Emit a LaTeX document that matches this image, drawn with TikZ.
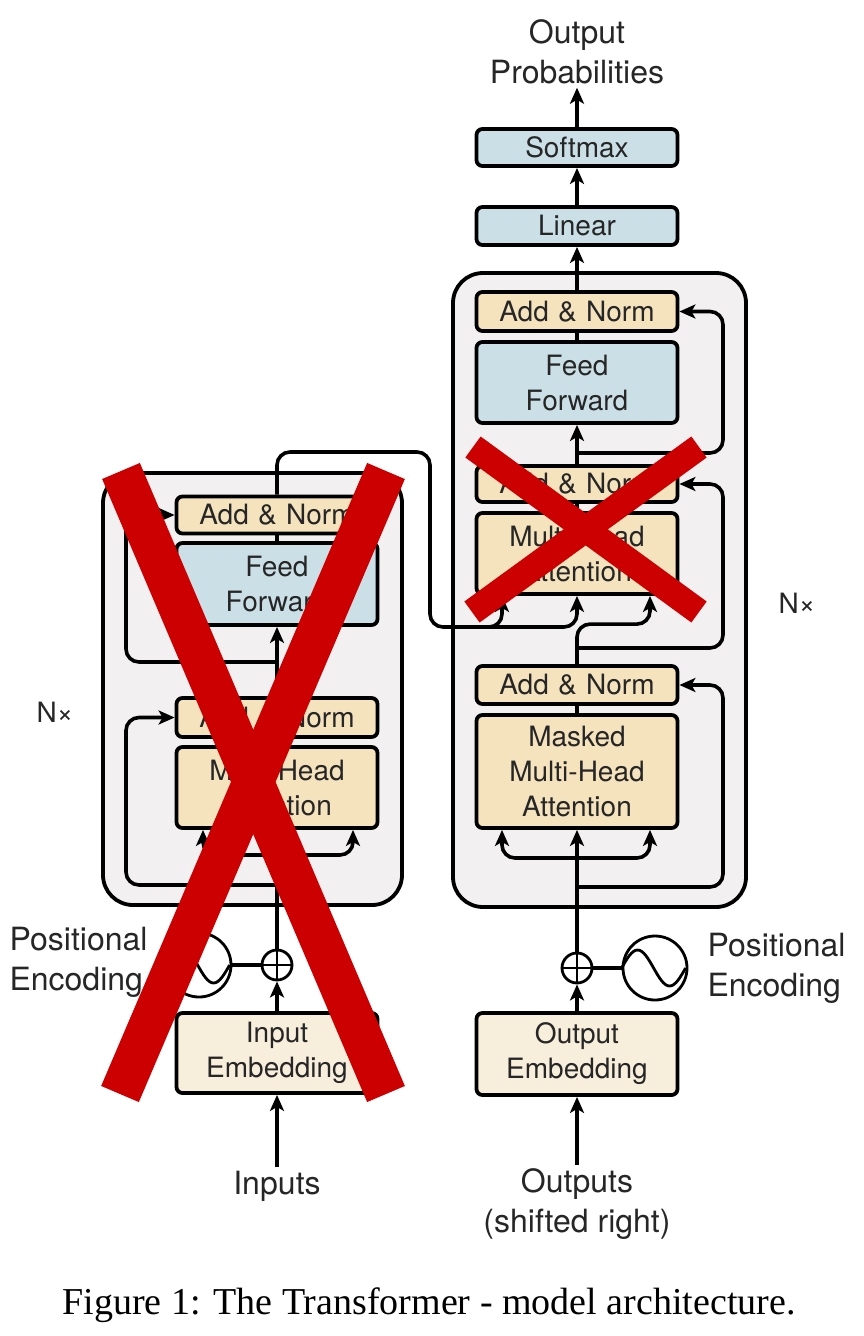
\documentclass[tikz,border=0pt]{standalone}
\usepackage{fontspec}
\setmainfont{TeX Gyre Heros}
\newfontfamily\capfont{Liberation Serif}
\usetikzlibrary{arrows.meta}

\definecolor{tanbg}{HTML}{F5E3BE}
\definecolor{bluebg}{HTML}{CBE0E6}
\definecolor{embbg}{HTML}{F8EEDC}
\definecolor{stackbg}{HTML}{F2F0F0}
\definecolor{xred}{HTML}{CC0000}

\tikzset{
  block/.style={draw, line width=3.8pt, rounded corners=6pt, minimum width=201pt,
    text width=190pt, align=center, inner sep=0pt, text=black!85,
    font=\fontsize{28}{35}\selectfont},
  addnorm/.style={block, fill=tanbg, minimum height=37pt},
  attn/.style={block, fill=tanbg},
  ffwd/.style={block, fill=bluebg},
  embed/.style={block, fill=embbg, minimum height=81pt},
  stack/.style={draw, line width=3.8pt, rounded corners=30pt, fill=stackbg},
  wire/.style={line width=3.6pt, rounded corners=13pt},
  arr/.style={wire, -{Stealth[length=16pt,width=14pt,inset=4pt]}},
  plus/.style={circle, draw, line width=2.8pt, minimum size=30pt, inner sep=0pt},
  wave/.style={circle, draw, line width=2.8pt, minimum size=64pt, inner sep=0pt},
  lbl/.style={text=black!85, font=\fontsize{32}{40}\selectfont, align=center},
  cross/.style={draw=xred, line width=#1},
}

\begin{document}
\begin{tikzpicture}[x=1pt, y=-1pt]
\useasboundingbox (0,0) rectangle (864,1336);

% stacks
\node[stack, minimum width=299pt, minimum height=432pt] (encbox) at (252.5,689) {};
\node[stack, minimum width=293pt, minimum height=634pt] (decbox) at (599.5,590) {};

% encoder
\node[addnorm] (ean2) at (277,515) {Add \& Norm};
\node[ffwd, minimum height=82pt] (eff) at (277,584) {Feed\\Forward};
\node[addnorm, minimum height=39pt] (ean1) at (277,717.5) {Add \& Norm};
\node[attn, minimum height=81pt] (emha) at (277,787.5) {Multi-Head\\Attention};
\node[plus] (eplus) at (277,965) {};
\node[wave] (esin) at (199,965) {};
\node[embed, minimum height=80pt] (eemb) at (277,1053) {Input\\Embedding};
\node[lbl] (inputs) at (277,1186) {Inputs};
\node[lbl, anchor=west, align=left] (epos) at (6,962) {Positional\\Encoding};
\node[lbl, font=\fontsize{28}{34}\selectfont] (encn) at (55,712) {N×};

% decoder
\node[lbl] (outprob) at (577,52) {Output\\Probabilities};
\node[ffwd, minimum height=37pt] (softmax) at (577,147.5) {Softmax};
\node[ffwd, minimum height=38pt] (linear) at (577,226) {Linear};
\node[addnorm, minimum height=39pt] (dan3) at (577,311.5) {Add \& Norm};
\node[ffwd, minimum height=81pt] (dff) at (577,382.5) {Feed\\Forward};
\node[addnorm, minimum height=36pt] (dan2) at (577,484) {Add \& Norm};
\node[attn, minimum height=81pt] (dmha) at (577,553.5) {Multi-Head\\Attention};
\node[addnorm, minimum height=38pt] (dan1) at (577,685) {Add \& Norm};
\node[attn, minimum height=113pt] (dmmha) at (577,771.5) {Masked\\Multi-Head\\Attention};
\node[plus] (dplus) at (577,968) {};
\node[wave] (dsin) at (655,968) {};
\node[embed, minimum height=82pt] (demb) at (577,1054) {Output\\Embedding};
\node[lbl] (outputs) at (577,1204) {Outputs\\(shifted right)};
\node[lbl, anchor=west, align=left] (dpos) at (704,968) {Positional\\Encoding};
\node[lbl, font=\fontsize{28}{34}\selectfont] (decn) at (797,603) {N×};

\node[text=black, font=\capfont\fontsize{38}{44}\selectfont] (caption) at (429,1305)
  {Figure 1: The Transformer - model architecture.};

% helper points
\coordinate (esplit) at (277,855);
\coordinate (eres1) at (277,885);
\coordinate (eres2) at (277,662);
\coordinate (dsplit) at (577,858);
\coordinate (dres1) at (577,887);
\coordinate (dres2) at (577,648);
\coordinate (dres3) at (577,453);
\coordinate (encbranch) at (470,627);

% plus and sine glyphs
\draw[line width=2.8pt] (eplus.north) -- (eplus.south) (eplus.west) -- (eplus.east);
\draw[line width=2.8pt] (dplus.north) -- (dplus.south) (dplus.west) -- (dplus.east);
\draw[line width=2.8pt] (esin.west) sin ++(16,-18) cos ++(16,18) sin ++(16,18) cos ++(16,-18);
\draw[line width=2.8pt] (dsin.west) sin ++(16,-18) cos ++(16,18) sin ++(16,18) cos ++(16,-18);

% encoder wires
\draw[arr] (inputs) -- (eemb);
\draw[arr] (eemb) -- (eplus);
\draw[wire] (esin) -- (eplus);
\draw[arr] (eplus) -- (emha);
\draw[arr] (esplit) -| ([xshift=-74pt]emha.south);
\draw[arr] (esplit) -| ([xshift=76pt]emha.south);
\draw[arr] (eres1) -- ++(-151,0) |- (ean1.west);
\draw[wire] (emha) -- (ean1);
\draw[arr] (ean1) -- (eff);
\draw[arr] (eres2) -- ++(-151,0) |- (ean2.west);
\draw[wire] (eff) -- (ean2);

% encoder to decoder
\draw[arr] (ean2.north) |- (430,452) -- (430,627) -| (dmha.south);
\draw[arr] (encbranch) -| ([xshift=-75pt]dmha.south);

% decoder wires
\draw[arr] (outputs) -- (demb);
\draw[arr] (demb) -- (dplus);
\draw[wire] (dsin) -- (dplus);
\draw[arr] (dplus) -- (dmmha);
\draw[arr] (dsplit) -| ([xshift=-75pt]dmmha.south);
\draw[arr] (dsplit) -| ([xshift=73pt]dmmha.south);
\draw[arr] (dres1) -- ++(146,0) |- (dan1.east);
\draw[wire] (dmmha) -- (dan1);
\draw[arr] (dan1.north) -- ++(0,-40) -| ([xshift=73pt]dmha.south);
\draw[arr] (dres2) -- ++(146,0) |- (dan2.east);
\draw[wire] (dmha) -- (dan2);
\draw[arr] (dan2) -- (dff);
\draw[arr] (dres3) -- ++(146,0) |- (dan3.east);
\draw[wire] (dff) -- (dan3);
\draw[arr] (dan3) -- (linear);
\draw[arr] (linear) -- (softmax);
\draw[arr] (softmax) -- (outprob);

% crosses
\draw[cross=41pt] (121,471) -- (386,1094);
\draw[cross=41pt] (386,471) -- (120,1094);
\draw[cross=26pt] (473,447) -- (699,612);
\draw[cross=26pt] (699,447) -- (472,612);
\end{tikzpicture}
\end{document}
